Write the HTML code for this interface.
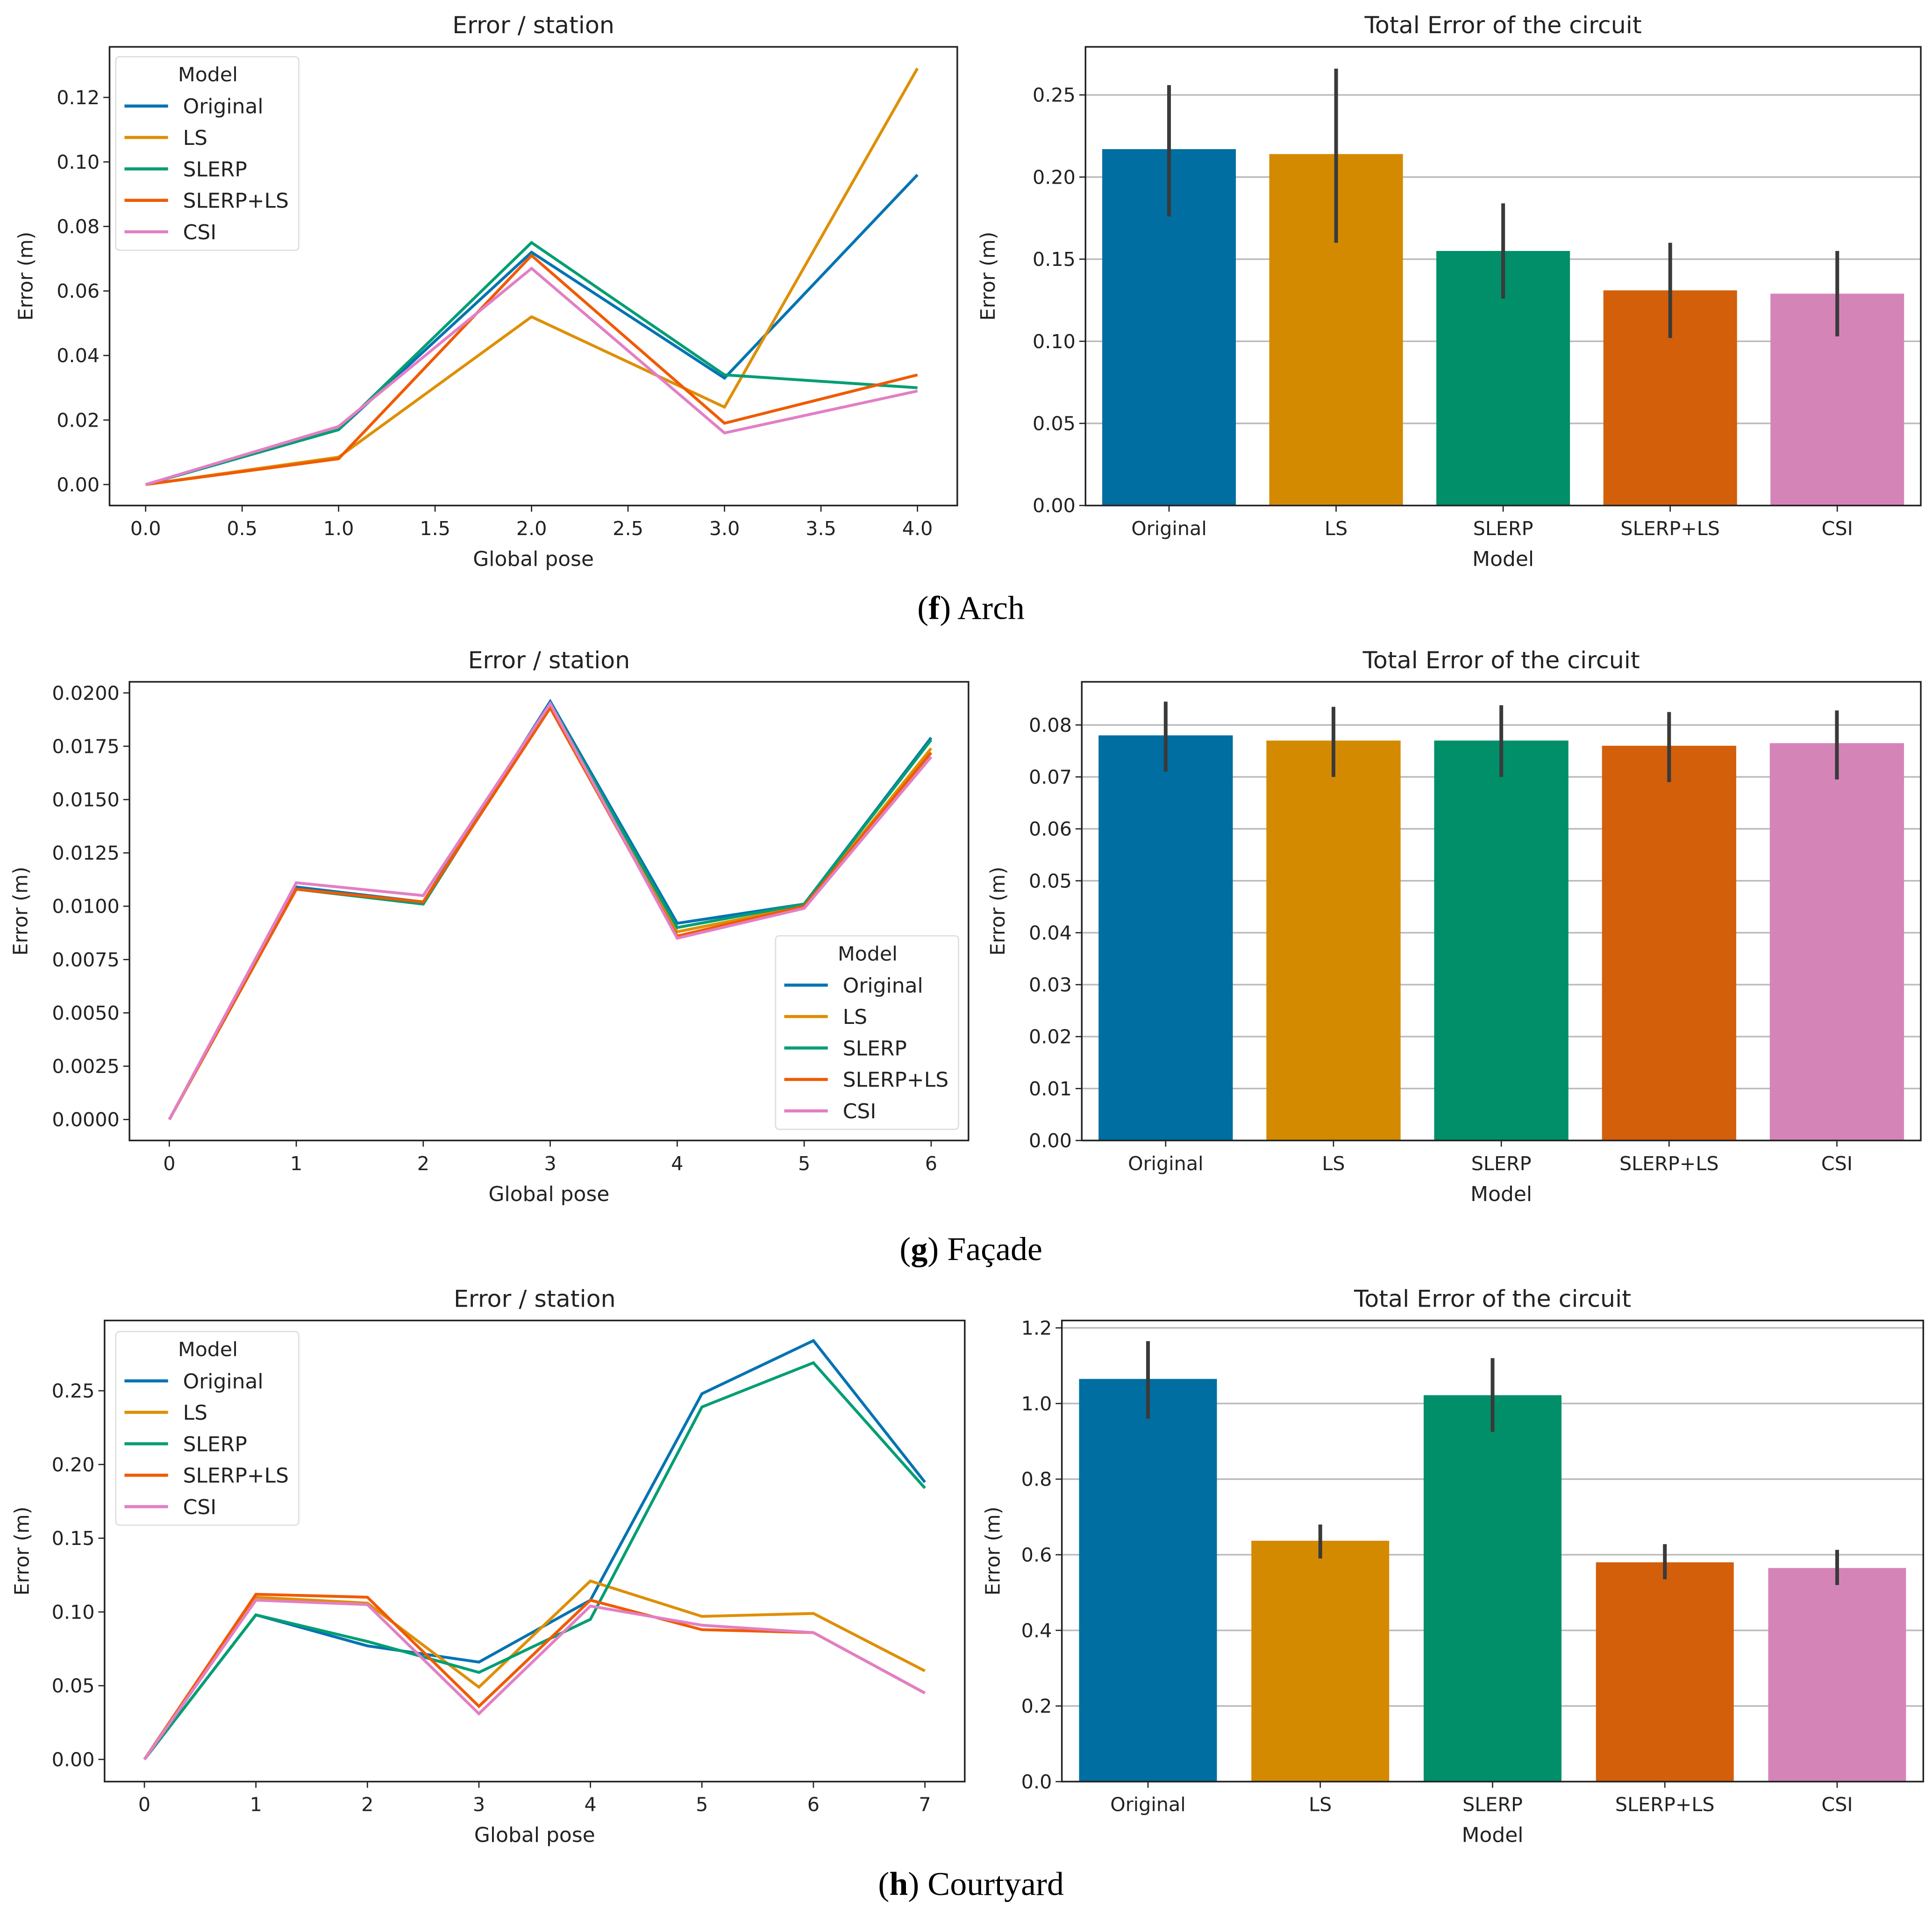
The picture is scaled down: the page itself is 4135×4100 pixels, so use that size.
<!DOCTYPE html>
<html><head><meta charset="utf-8"><style>
html,body{margin:0;padding:0;background:#fff;}
svg{display:block;}
text{font-family:"DejaVu Sans","Liberation Sans",sans-serif;fill:#222;}
.cap{font-family:"Liberation Serif",serif;font-size:27px;fill:#000;}
</style></head><body>
<svg id="fig" width="4135" height="4100" viewBox="0 0 1552 1554" preserveAspectRatio="none" xmlns="http://www.w3.org/2000/svg">
<text class="cap" x="780" y="502" text-anchor="middle">(<tspan font-weight="bold">f</tspan>) Arch</text>
<text class="cap" x="780" y="1022" text-anchor="middle">(<tspan font-weight="bold">g</tspan>) Façade</text>
<text class="cap" x="780" y="1537" text-anchor="middle">(<tspan font-weight="bold">h</tspan>) Courtyard</text>
</svg>
<script>
const models = ["Original","LS","SLERP","SLERP+LS","CSI"];
const lineColors = ["#0173b2","#de8f05","#029e73","#f05a00","#e27fc4"];
const barColors = ["#006ea0","#d48a00","#008f68","#d35f0b","#d584b8"];

const archX = [0,1,2,3,4];
const archOriginal = [0,0.017,0.072,0.033,0.096];
const archLS = [0,0.0085,0.052,0.024,0.129];
const archSLERP = [0,0.017,0.075,0.034,0.030];
const archSLERPLS = [0,0.008,0.071,0.019,0.034];
const archCSI = [0,0.018,0.067,0.016,0.029];
const archXTicks = [0,0.5,1,1.5,2,2.5,3,3.5,4];
const archXTickLabels = ["0.0","0.5","1.0","1.5","2.0","2.5","3.0","3.5","4.0"];
const archYTicks = [0,0.02,0.04,0.06,0.08,0.10,0.12];
const archYTickLabels = ["0.00","0.02","0.04","0.06","0.08","0.10","0.12"];
const archTotals = [0.217,0.214,0.155,0.131,0.129];
const archLow = [0.176,0.160,0.126,0.102,0.103];
const archHigh = [0.256,0.266,0.184,0.160,0.155];
const archBarTicks = [0,0.05,0.10,0.15,0.20,0.25];
const archBarTickLabels = ["0.00","0.05","0.10","0.15","0.20","0.25"];

const facX = [0,1,2,3,4,5,6];
const facOriginal = [0,0.0109,0.0102,0.0196,0.0092,0.0101,0.0179];
const facLS = [0,0.0108,0.0102,0.0194,0.0088,0.0100,0.0174];
const facSLERP = [0,0.0108,0.0101,0.0195,0.0090,0.0101,0.0178];
const facSLERPLS = [0,0.0108,0.0102,0.0193,0.0086,0.0100,0.0172];
const facCSI = [0,0.0111,0.0105,0.0195,0.0085,0.0099,0.0170];
const facXTicks = [0,1,2,3,4,5,6];
const facXTickLabels = ["0","1","2","3","4","5","6"];
const facYTicks = [0,0.0025,0.005,0.0075,0.01,0.0125,0.015,0.0175,0.02];
const facYTickLabels = ["0.0000","0.0025","0.0050","0.0075","0.0100","0.0125","0.0150","0.0175","0.0200"];
const facTotals = [0.078,0.077,0.077,0.076,0.0765];
const facLow = [0.071,0.070,0.070,0.069,0.0695];
const facHigh = [0.0845,0.0835,0.0838,0.0825,0.0828];
const facBarTicks = [0,0.01,0.02,0.03,0.04,0.05,0.06,0.07,0.08];
const facBarTickLabels = ["0.00","0.01","0.02","0.03","0.04","0.05","0.06","0.07","0.08"];

const cyX = [0,1,2,3,4,5,6,7];
const cyOriginal = [0,0.098,0.077,0.066,0.108,0.248,0.284,0.188];
const cyLS = [0,0.110,0.106,0.049,0.121,0.097,0.099,0.060];
const cySLERP = [0,0.098,0.080,0.059,0.095,0.239,0.269,0.184];
const cySLERPLS = [0,0.112,0.110,0.036,0.108,0.088,0.086,0.045];
const cyCSI = [0,0.108,0.105,0.031,0.104,0.091,0.086,0.045];
const cyXTicks = [0,1,2,3,4,5,6,7];
const cyXTickLabels = ["0","1","2","3","4","5","6","7"];
const cyYTicks = [0,0.05,0.10,0.15,0.20,0.25];
const cyYTickLabels = ["0.00","0.05","0.10","0.15","0.20","0.25"];
const cyTotals = [1.065,0.637,1.022,0.580,0.565];
const cyLow = [0.960,0.590,0.925,0.535,0.520];
const cyHigh = [1.165,0.680,1.120,0.628,0.613];
const cyBarTicks = [0,0.2,0.4,0.6,0.8,1.0,1.2];
const cyBarTickLabels = ["0.0","0.2","0.4","0.6","0.8","1.0","1.2"];

const NS="http://www.w3.org/2000/svg";
const svg=document.getElementById('fig');
function mk(tag,attrs,parent){const e=document.createElementNS(NS,tag);for(const k in attrs)e.setAttribute(k,attrs[k]);(parent||svg).appendChild(e);return e;}
function txt(s,attrs,parent){const e=mk('text',attrs,parent);e.textContent=s;return e;}

function linePanel(name,box,xr,xs,yr,series,xTicks,xLabels,yTicks,yLabels,legend){
  const g=mk('g',{});
  
  
  const sx=v=>box.x0px+(v-xr[0])/(xr[1]-xr[0])*(box.x1px-box.x0px);
  const sy=v=>box.y0px+(v-yr[0])/(yr[1]-yr[0])*(box.y1px-box.y0px);
  const t=txt('Error / station',{x:(box.l+box.r)/2,y:box.t-11,'text-anchor':'middle','font-size':19},g);
  
  
  xTicks.forEach((v,i)=>{const x=sx(v);mk('line',{x1:x,x2:x,y1:box.b,y2:box.b+5,stroke:'#222'},g);
    const l=txt(xLabels[i],{x:x,y:box.b+24,'text-anchor':'middle','font-size':15.5},g);
    
    });
  yTicks.forEach((v,i)=>{const y=sy(v);mk('line',{x1:box.l-5,x2:box.l,y1:y,y2:y,stroke:'#222'},g);
    const l=txt(yLabels[i],{x:box.l-8,y:y+5.5,'text-anchor':'end','font-size':15.5},g);
    
    });
  series.forEach((s,k)=>{const p=mk('polyline',{points:s.map((v,i)=>sx(xs[i])+','+sy(v)).join(' '),fill:'none',stroke:lineColors[k],'stroke-width':2.3},g);
    
    });
  mk('rect',{x:box.l,y:box.t,width:box.r-box.l,height:box.b-box.t,fill:'none',stroke:'#222','stroke-width':1.3},g);
  const xt=txt('Global pose',{x:(box.l+box.r)/2,y:box.b+49,'text-anchor':'middle','font-size':16.5},g);
  
  
  const yt=txt('Error (m)',{x:0,y:0,'text-anchor':'middle','font-size':16,transform:`translate(${box.yl},${(box.t+box.b)/2}) rotate(-90)`},g);
  
  
  const lg=mk('g',{},g);
  
  
  mk('rect',{x:legend.x,y:legend.y,width:147,height:157,rx:3,fill:'#fff','fill-opacity':0.85,stroke:'#ddd'},lg);
  txt('Model',{x:legend.x+74,y:legend.y+20,'text-anchor':'middle','font-size':16},lg);
  models.forEach((m,k)=>{const y=legend.y+40+k*25.5;
    mk('line',{x1:legend.x+7,x2:legend.x+42,y1:y,y2:y,stroke:lineColors[k],'stroke-width':2.5},lg);
    const e=txt(m,{x:legend.x+54,y:y+6,'font-size':16.5},lg);
    
    });
}

function barPanel(name,box,yr,vals,lo,hi,yTicks,yLabels){
  const g=mk('g',{});
  
  
  const sy=v=>box.b-(v-yr[0])/(yr[1]-yr[0])*(box.y0-box.ytop);
  const step=(box.r-box.l)/vals.length;
  const t=txt('Total Error of the circuit',{x:(box.l+box.r)/2,y:box.t-11,'text-anchor':'middle','font-size':19},g);
  
  
  yTicks.forEach((v,i)=>{const y=sy(v);mk('line',{x1:box.l,x2:box.r,y1:y,y2:y,stroke:'#bbb','stroke-width':1.3},g);
    mk('line',{x1:box.l-5,x2:box.l,y1:y,y2:y,stroke:'#222'},g);
    const l=txt(yLabels[i],{x:box.l-8,y:y+5.5,'text-anchor':'end','font-size':15.5},g);
    
    });
  vals.forEach((v,i)=>{const cx=box.l+step*(i+0.5);const w=step*0.8;
    const b=mk('rect',{x:cx-w/2,y:sy(v),width:w,height:box.b-sy(v),fill:barColors[i]},g);
    
    
    const e=mk('line',{x1:cx,x2:cx,y1:sy(lo[i]),y2:sy(hi[i]),stroke:'#3a3a3a','stroke-width':3},g);
    
    
    mk('line',{x1:cx,x2:cx,y1:box.b,y2:box.b+5,stroke:'#222'},g);
    const l=txt(models[i],{x:cx,y:box.b+24,'text-anchor':'middle','font-size':15.5},g);
    
    });
  mk('rect',{x:box.l,y:box.t,width:box.r-box.l,height:box.b-box.t,fill:'none',stroke:'#222','stroke-width':1.3},g);
  const xt=txt('Model',{x:(box.l+box.r)/2,y:box.b+49,'text-anchor':'middle','font-size':16.5},g);
  
  
  const yt=txt('Error (m)',{x:0,y:0,'text-anchor':'middle','font-size':16,transform:`translate(${box.yl},${(box.t+box.b)/2}) rotate(-90)`},g);
  
  
}

linePanel('arch',{l:88,r:769,t:38,b:410,yl:26,x0px:117,x1px:737,y0px:393,y1px:79},[0,4],archX,[0,0.12],
  [archOriginal,archLS,archSLERP,archSLERPLS,archCSI],archXTicks,archXTickLabels,archYTicks,archYTickLabels,{x:93,y:46});
barPanel('arch',{l:872,r:1543,t:38,b:410,yl:799,y0:410,ytop:77},[0,0.25],archTotals,archLow,archHigh,archBarTicks,archBarTickLabels);

linePanel('facade',{l:104,r:778,t:553,b:925,yl:22,x0px:136,x1px:748,y0px:908,y1px:562},[0,6],facX,[0,0.02],
  [facOriginal,facLS,facSLERP,facSLERPLS,facCSI],facXTicks,facXTickLabels,facYTicks,facYTickLabels,{x:623,y:759});
barPanel('facade',{l:869,r:1543,t:553,b:925,yl:807,y0:925,ytop:588},[0,0.08],facTotals,facLow,facHigh,facBarTicks,facBarTickLabels);

linePanel('courtyard',{l:84,r:775,t:1071,b:1445,yl:23,x0px:116,x1px:743,y0px:1427,y1px:1128},[0,7],cyX,[0,0.25],
  [cyOriginal,cyLS,cySLERP,cySLERPLS,cyCSI],cyXTicks,cyXTickLabels,cyYTicks,cyYTickLabels,{x:93,y:1080});
barPanel('courtyard',{l:853,r:1545,t:1071,b:1445,yl:803,y0:1445,ytop:1077},[0,1.2],cyTotals,cyLow,cyHigh,cyBarTicks,cyBarTickLabels);
</script>
</body></html>
